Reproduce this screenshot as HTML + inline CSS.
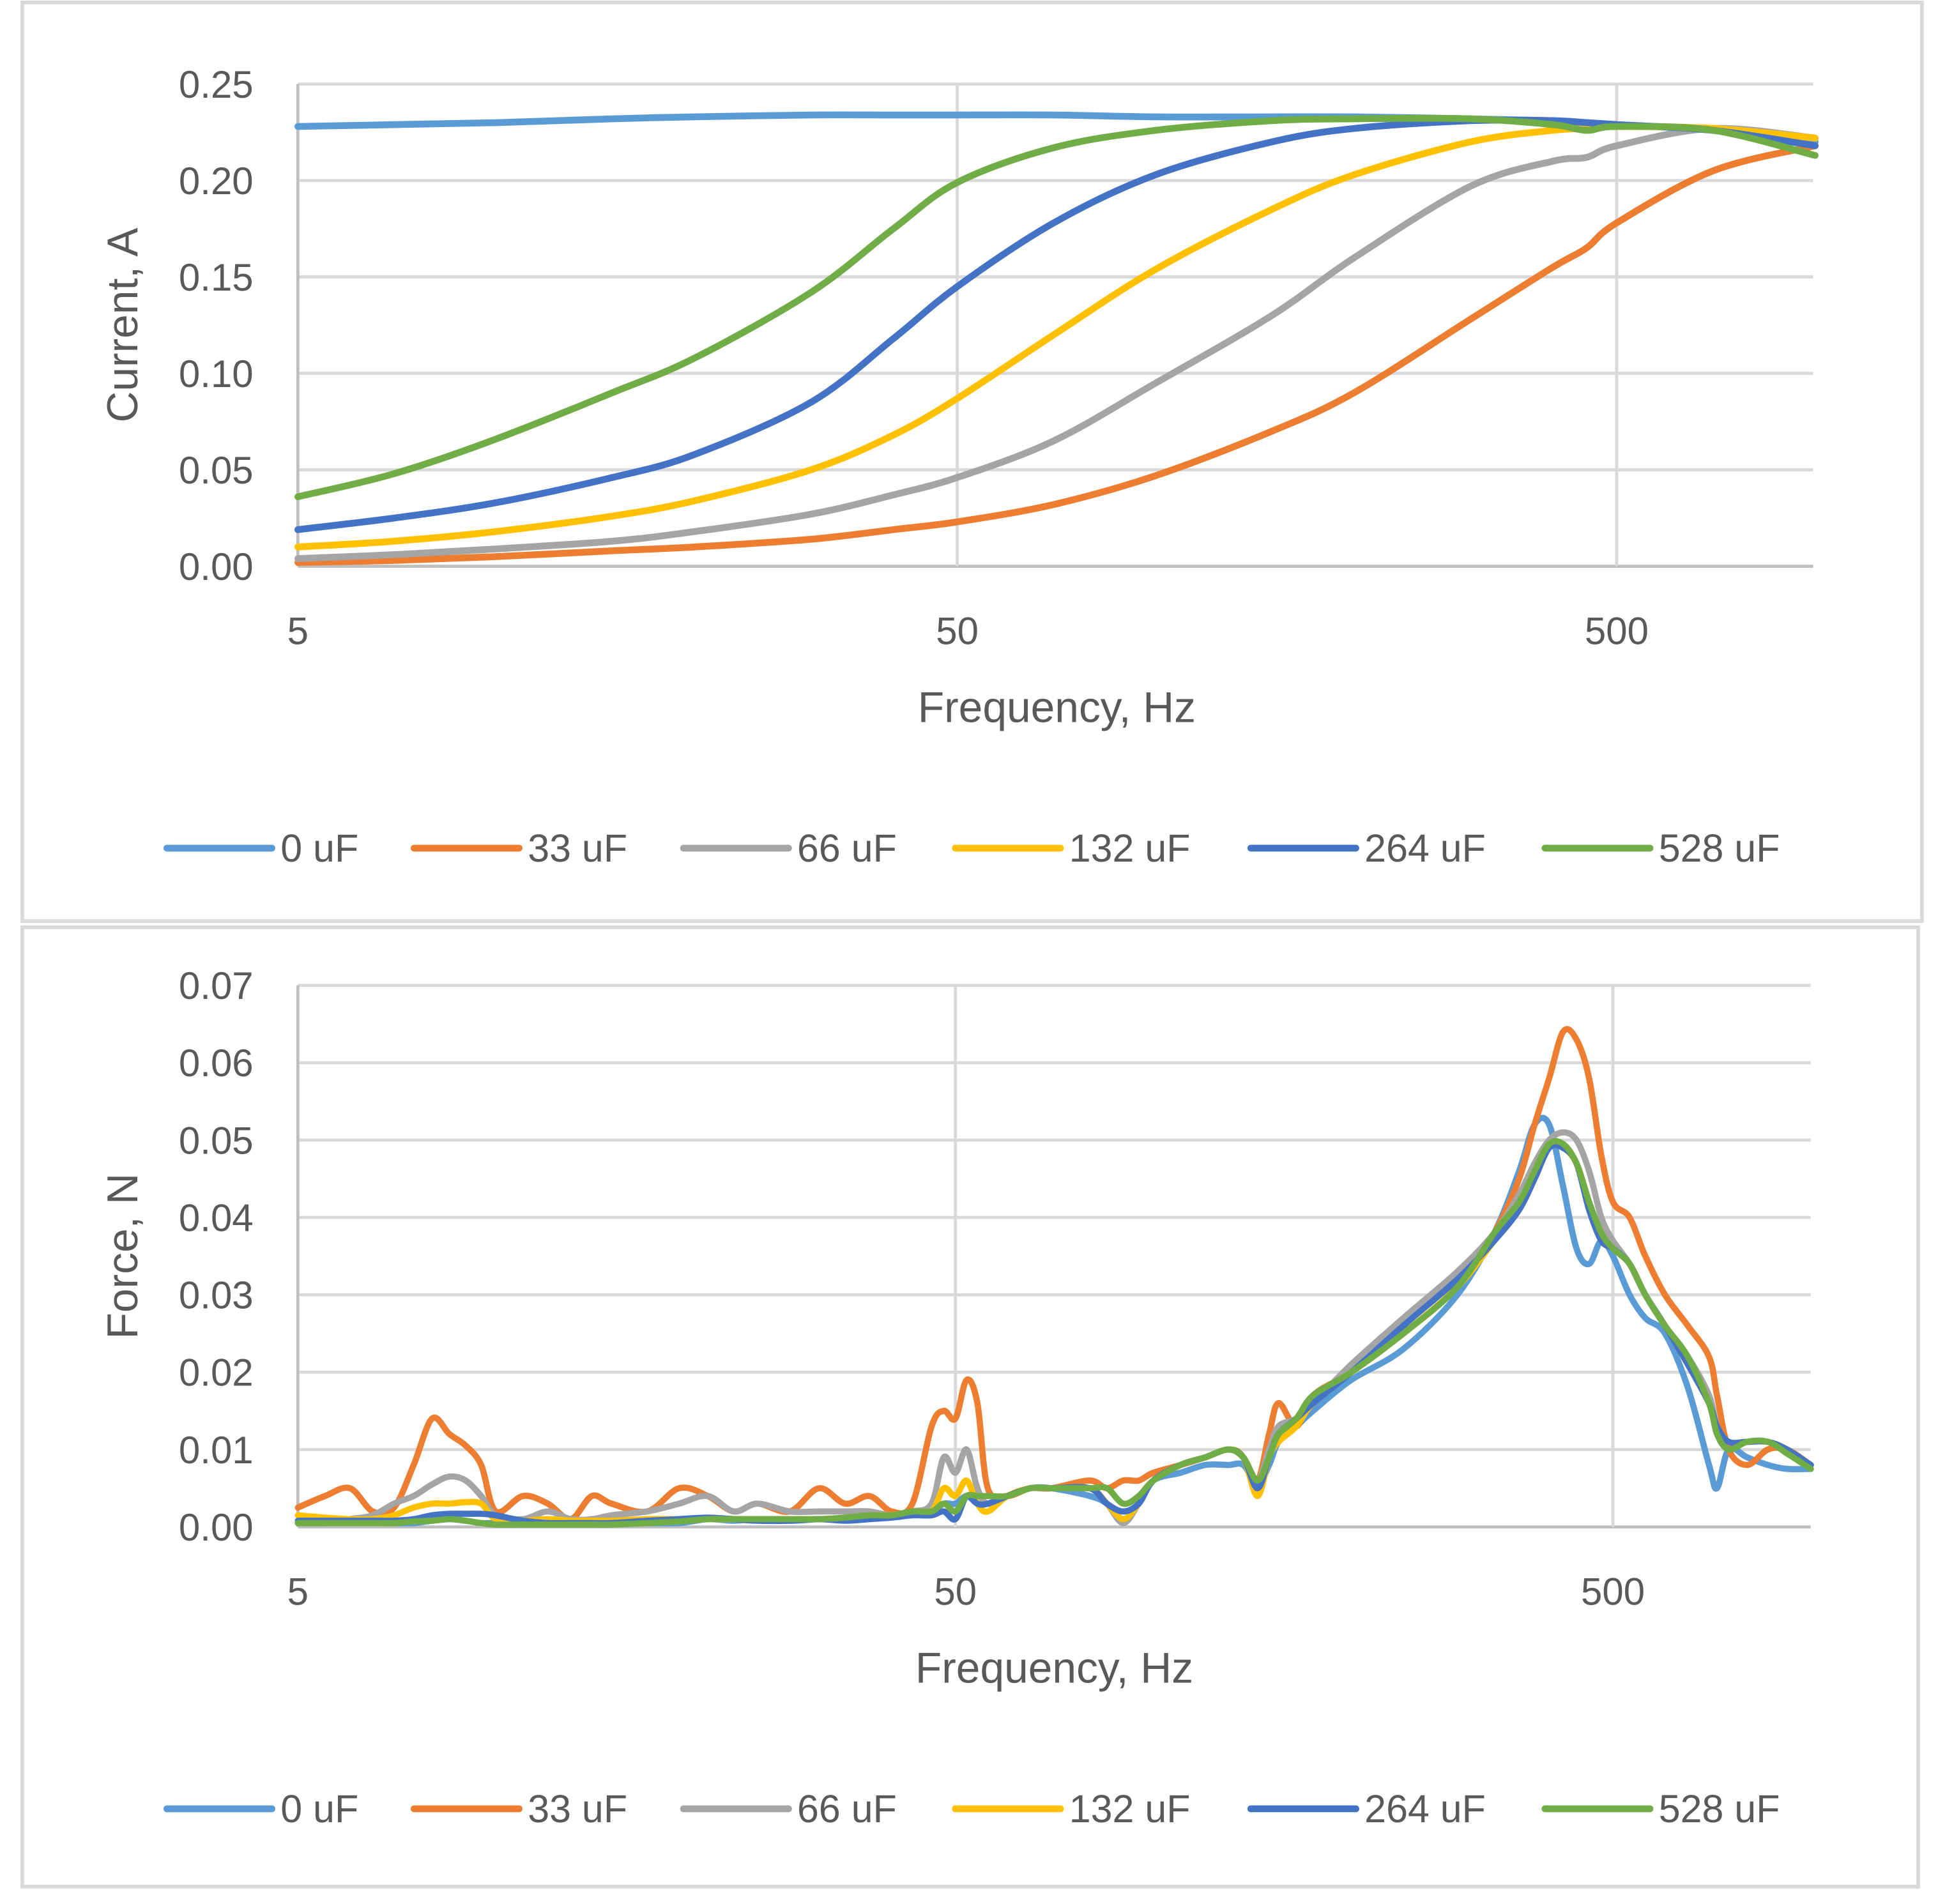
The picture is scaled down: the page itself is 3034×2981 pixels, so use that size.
<!DOCTYPE html>
<html><head><meta charset="utf-8"><style>
html,body{margin:0;padding:0;background:#fff;}
svg{display:block;font-family:"Liberation Sans",sans-serif;}
</style></head><body>
<svg id="svg" width="3034" height="2981" viewBox="0 0 1568 1540" preserveAspectRatio="none" xmlns="http://www.w3.org/2000/svg">
<rect x="0" y="0" width="1568" height="1540" fill="#fff"/>
<rect x="18" y="2" width="1537" height="743" fill="none" stroke="#D9D9D9" stroke-width="3"/>
<rect x="18" y="750" width="1534" height="776" fill="none" stroke="#D9D9D9" stroke-width="3"/>
<g id="top"></g>
<g id="bot"></g>
</svg>
<script>
const seriesNames = ["0 uF","33 uF","66 uF","132 uF","264 uF","528 uF"];
const seriesColors = ["#5B9BD5","#ED7D31","#A5A5A5","#FFC000","#4472C4","#70AD47"];
const xTickLabels = [5,50,500];
const currentTicks = [0,0.05,0.10,0.15,0.20,0.25];
const forceTicks = [0,0.01,0.02,0.03,0.04,0.05,0.06,0.07];

const freqCurrent = [5,7,10,15,20,30,40,50,70,100,150,200,300,400,450,500,700,1000];
const cur0 = [0.228,0.229,0.230,0.232,0.233,0.234,0.234,0.234,0.234,0.233,0.233,0.233,0.232,0.231,0.230,0.229,0.226,0.220];
const cur33 = [0.002,0.003,0.005,0.008,0.010,0.014,0.019,0.023,0.032,0.047,0.070,0.090,0.128,0.155,0.165,0.178,0.205,0.218];
const cur66 = [0.004,0.006,0.009,0.013,0.018,0.027,0.037,0.046,0.065,0.095,0.130,0.160,0.197,0.210,0.212,0.218,0.227,0.222];
const cur132 = [0.010,0.013,0.018,0.026,0.034,0.050,0.068,0.087,0.120,0.154,0.185,0.203,0.220,0.226,0.227,0.228,0.227,0.222];
const cur264 = [0.019,0.025,0.033,0.046,0.058,0.085,0.118,0.145,0.178,0.203,0.220,0.227,0.231,0.231,0.230,0.229,0.226,0.218];
const cur528 = [0.036,0.048,0.066,0.090,0.108,0.142,0.175,0.199,0.217,0.226,0.231,0.232,0.232,0.229,0.226,0.228,0.226,0.213];

const freqForce = [5,5.5,6,6.5,7,7.5,8,8.5,9,9.5,10,11,12,13,14,15,17,19,21,23,25,28,31,34,37,40,43,46,48,50,52,54,56,60,65,70,80,85,90,95,100,110,120,130,137,144,150,155,165,175,200,240,290,330,360,380,400,420,440,460,480,500,530,560,600,650,700,720,750,800,860,920,1000];
const force0 = [.0005,.0005,.0005,.0005,.0005,.0005,.0008,.001,.0008,.0005, .0005,.0005,.0005,.0005,.0005,.0005,.0005,.0005,.001,.0008, .001,.0008,.001,.001,.0015,.0015,.002,.002,.003,.003, .004,.003,.003,.004,.005,.005,.004,.003,.001,.003, .006,.007,.008,.008,.008,.0055,.008,.011,.013,.015, .019,.023,.030,.038,.046,.052,.052,.044,.036,.034, .037,.035,.030,.027,.025,.018,.008,.005,.010,.009, .008,.0075,.0075];
const force33 = [.0025,.004,.005,.002,.0025,.008,.014,.012,.0105,.008, .002,.004,.003,.001,.004,.003,.002,.005,.004,.002, .003,.002,.005,.003,.004,.002,.003,.013,.015,.014, .019,.016,.005,.004,.005,.005,.006,.005,.006,.006, .007,.008,.009,.010,.009,.006,.012,.016,.013,.017, .020,.025,.031,.038,.045,.052,.058,.064,.063,.058, .048,.042,.040,.035,.030,.026,.022,.017,.010,.008, .010,.010,.008];
const force66 = [.0005,.0005,.001,.0015,.003,.004,.0055,.0065,.006,.004, .0015,.001,.002,.001,.001,.0015,.002,.003,.004,.002, .003,.002,.002,.002,.002,.0015,.002,.003,.009,.007, .010,.005,.003,.004,.005,.005,.005,.003,.0005,.003, .006,.008,.009,.010,.009,.006,.010,.013,.014,.016, .021,.027,.033,.038,.043,.047,.050,.051,.050,.046, .040,.037,.034,.030,.026,.022,.017,.013,.011,.011, .011,.010,.008];
const force132 = [.0015,.0012,.001,.001,.0015,.0025,.003,.003,.0032,.003, .001,.0008,.001,.0008,.0008,.0008,.001,.001,.001,.001, .001,.001,.001,.001,.0015,.0015,.002,.002,.005,.004, .006,.003,.002,.004,.005,.005,.005,.003,.001,.003, .006,.008,.009,.010,.009,.004,.009,.011,.013,.016, .020,.025,.031,.037,.041,.045,.049,.049,.047,.042, .038,.036,.034,.030,.026,.021,.016,.013,.011,.011, .011,.010,.008];
const force264 = [.0008,.0008,.0008,.0008,.0008,.001,.0015,.0017,.0017,.0017, .0015,.0008,.0005,.0005,.0005,.0005,.0008,.001,.0012,.001, .0008,.0008,.001,.0008,.001,.0012,.0015,.0015,.002,.001, .004,.003,.003,.004,.005,.005,.005,.003,.002,.003, .006,.008,.009,.010,.009,.005,.009,.012,.014,.016, .020,.026,.032,.037,.041,.045,.049,.049,.047,.041, .037,.036,.034,.030,.026,.021,.016,.013,.011,.011, .011,.010,.008];
const force528 = [.0005,.0005,.0005,.0005,.0005,.0007,.0008,.001,.0008,.0005, .0003,.0003,.0003,.0003,.0003,.0003,.0005,.0007,.001,.001, .001,.001,.001,.0012,.0015,.0015,.002,.002,.003,.002, .004,.004,.004,.004,.005,.005,.005,.005,.003,.004, .006,.008,.009,.010,.009,.006,.009,.012,.014,.017, .020,.025,.031,.038,.042,.046,.0495,.0495,.047,.042, .038,.036,.034,.030,.026,.022,.016,.012,.010,.011, .011,.0095,.0075];

const NS = "http://www.w3.org/2000/svg";
function mk(parent, tag, attrs, text){
  const e = document.createElementNS(NS, tag);
  for (const k in attrs) e.setAttribute(k, attrs[k]);
  if (text !== undefined) e.textContent = text;
  parent.appendChild(e);
  return e;
}
function smoothPath(P){
  let d = 'M' + P[0][0].toFixed(1) + ',' + P[0][1].toFixed(1);
  for (let i = 0; i < P.length - 1; i++){
    const p0 = P[Math.max(0, i-1)], p1 = P[i], p2 = P[i+1], p3 = P[Math.min(P.length-1, i+2)];
    const c1x = p1[0] + (p2[0]-p0[0])/6, c1y = p1[1] + (p2[1]-p0[1])/6;
    const c2x = p2[0] - (p3[0]-p1[0])/6, c2y = p2[1] - (p3[1]-p1[1])/6;
    d += ' C' + c1x.toFixed(1) + ',' + c1y.toFixed(1) + ' ' + c2x.toFixed(1) + ',' + c2y.toFixed(1) + ' ' + p2[0].toFixed(1) + ',' + p2[1].toFixed(1);
  }
  return d;
}

function drawChart(g, cfg){
  const xs = f => cfg.x0 + cfg.dec * Math.log10(f / 5);
  const ys = v => cfg.y0 - (v / cfg.ymax) * (cfg.y0 - cfg.y1);
  cfg.ticks.forEach((t, i) => {
    const y = ys(t);
    const gl = mk(g, 'line', {x1: cfg.x0, x2: cfg.xEnd, y1: y, y2: y, stroke: i === 0 ? '#BFBFBF' : '#D9D9D9', 'stroke-width': 2.5});
    
    
    const tl = mk(g, 'text', {x: cfg.x0 - 36, y: y + 11, 'text-anchor': 'end', 'font-size': 31, fill: '#595959'}, t.toFixed(2));
    
    
  });
  xTickLabels.forEach((f, i) => {
    const x = xs(f);
    if (i > 0) {
      const vl = mk(g, 'line', {x1: x, x2: x, y1: cfg.y1, y2: cfg.y0, stroke: '#D9D9D9', 'stroke-width': 2.5});
      
      
    }
    const xl = mk(g, 'text', {x: x, y: cfg.xLabY, 'text-anchor': 'middle', 'font-size': 31, fill: '#595959'}, String(f));
    
    
  });
  const ya = mk(g, 'line', {x1: cfg.x0, x2: cfg.x0, y1: cfg.y1, y2: cfg.y0, stroke: '#BFBFBF', 'stroke-width': 2.5});
  
  
  cfg.series.forEach((vals, si) => {
    const P = vals.map((v, i) => [xs(cfg.freq[i]), ys(v)]);
    const pl = mk(g, 'path', {d: smoothPath(P), fill: 'none', stroke: seriesColors[si], 'stroke-width': cfg.sw, 'stroke-linejoin': 'round', 'stroke-linecap': 'round'});
    
    
  });
  const xt = mk(g, 'text', {x: cfg.xTitleX, y: cfg.xTitleY, 'text-anchor': 'middle', 'font-size': 35, fill: '#595959'}, 'Frequency, Hz');
  
  
  const yt = mk(g, 'text', {x: 0, y: 0, 'text-anchor': 'middle', 'font-size': 35, fill: '#595959', transform: 'translate(' + cfg.yTitleX + ',' + cfg.yTitleY + ') rotate(-90)'}, cfg.yTitle);
  
  
  const lx = [135, 335, 553, 773, 1012, 1250];
  seriesNames.forEach((n, i) => {
    const lg = mk(g, 'g', {});
    
    
    mk(lg, 'line', {x1: lx[i], x2: lx[i] + 85, y1: cfg.legY, y2: cfg.legY, stroke: seriesColors[i], 'stroke-width': 5.5, 'stroke-linecap': 'round'});
    mk(lg, 'text', {x: lx[i] + 92, y: cfg.legY + 11, 'font-size': 31.5, fill: '#595959'}, n);
  });
}

drawChart(document.getElementById('top'), {
  x0: 241, dec: 533.5, xEnd: 1467, y0: 458, y1: 68, ymax: 0.25, ticks: currentTicks,
  freq: freqCurrent, series: [cur0, cur33, cur66, cur132, cur264, cur528], sw: 5.5,
  xLabY: 521, xTitleX: 855, xTitleY: 584, yTitle: 'Current, A', yTitleX: 111, yTitleY: 263, legY: 686
});
drawChart(document.getElementById('bot'), {
  x0: 241, dec: 532, xEnd: 1465, y0: 1235, y1: 797, ymax: 0.07, ticks: forceTicks,
  freq: freqForce, series: [force0, force33, force66, force132, force264, force528], sw: 5,
  xLabY: 1298, xTitleX: 853, xTitleY: 1361, yTitle: 'Force, N', yTitleX: 111, yTitleY: 1016, legY: 1463
});
</script>
</body></html>
